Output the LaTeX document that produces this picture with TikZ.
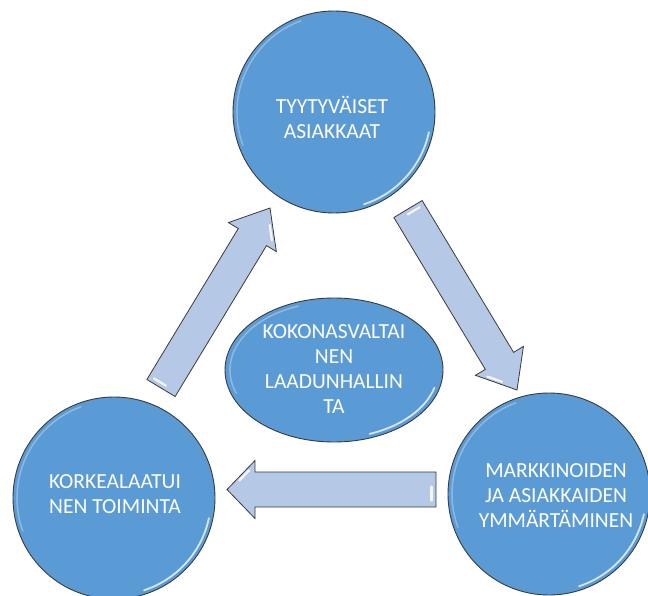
\documentclass[tikz,border=0pt]{standalone}
\usepackage{fontspec}
\setmainfont{Carlito}
\usetikzlibrary{calc,shapes.geometric}
\definecolor{cblue}{HTML}{5B9BD5}
\definecolor{ablue}{HTML}{B5C8E6}
\definecolor{edgec}{HTML}{3A3A3A}
\tikzset{
  bubble/.style={circle, fill=cblue, draw=edgec, line width=0.9pt, minimum size=202pt, inner sep=0pt},
  midbubble/.style={ellipse, fill=cblue, draw=edgec, line width=0.9pt, minimum width=218pt, minimum height=144pt, inner sep=0pt},
  txt/.style={text=white, font=\fontsize{21.5}{25}\selectfont, align=center, inner sep=0pt},
  blockarrow/.style={fill=ablue, draw=edgec, line width=0.8pt, line join=miter},
  rim/.style={draw=white, opacity=0.75, line width=1.8pt, line cap=round},
  softrim/.style={draw=white, opacity=0.3, line width=1.5pt, line cap=round},
  streak/.style={draw=white, opacity=0.85, line width=2.2pt, line cap=round}
}
\newcommand{\blockarr}[5]{% tail, tip, half shaft, half head, head length
  \coordinate (#1#2b) at ($(#2)!#5!(#1)$);
  \coordinate (#1#2m) at ($(#1#2b)!#4!-90:(#2)$);
  \draw[blockarrow] ($(#1)!#3!90:(#2)$) -- ($(#1#2b)!#3!90:(#2)$) -- ($(#1#2b)!#4!90:(#2)$)
    -- (#2) -- (#1#2m) -- ($(#1#2b)!#3!-90:(#2)$) -- ($(#1)!#3!-90:(#2)$) -- cycle;
  % highlight along the head edge
  \coordinate (#1#2c) at ($(#1#2b)!0.35!(#2)$);
  \draw[streak] ($($(#1#2m)!0.18!(#2)$)!0.2!(#1#2c)$) -- ($($(#1#2m)!0.62!(#2)$)!0.2!(#1#2c)$);
  % highlight inside the tail end
  \coordinate (#1#2s) at ($(#1)!4.5pt!(#2)$);
  \draw[streak] ($(#1#2s)!3pt!-90:(#2)$) -- ($(#1#2s)!11pt!90:(#2)$);
}
\newcommand{\circrim}[1]{%
  \draw[rim] ($(#1.center)+(-12:97pt)$) arc[start angle=-12, end angle=-72, radius=97pt];
  \draw[softrim] ($(#1.center)+(110:97pt)$) arc[start angle=110, end angle=200, radius=97pt];
}
\begin{document}
\begin{tikzpicture}[x=1pt, y=-1pt]
  \useasboundingbox (0,0) rectangle (648,596);
  % arrows
  \coordinate (a1t) at (161,388);
  \coordinate (a1h) at (270,208);
  \coordinate (a2t) at (408,209);
  \coordinate (a2h) at (517,390);
  \coordinate (a3t) at (436,489.5);
  \coordinate (a3h) at (227,489.5);
  \blockarr{a1t}{a1h}{16.5pt}{28pt}{34pt}
  \blockarr{a2t}{a2h}{16.5pt}{28pt}{34pt}
  \blockarr{a3t}{a3h}{17.5pt}{29pt}{28pt}
  % circles
  \node[bubble] (top) at (334,112) {};
  \node[bubble] (left) at (114,498) {};
  \node[bubble] (right) at (549,494) {};
  \circrim{top}
  \circrim{left}
  \circrim{right}
  \node[txt] (toptxt) at (332,117) {TYYTYVÄISET\\ASIAKKAAT};
  \node[txt] (lefttxt) at (115,494) {KORKEALAATUI\\NEN TOIMINTA};
  \node[txt] (righttxt) at (556,496) {MARKKINOIDEN\\JA ASIAKKAIDEN\\YMMÄRTÄMINEN};
  % center ellipse
  \node[midbubble] (mid) at (334,370) {};
  \draw[rim] ($(mid.center)+(-15:104pt and 68pt)$) arc[start angle=-15, end angle=-70, x radius=104pt, y radius=68pt];
  \draw[softrim] ($(mid.center)+(110:104pt and 68pt)$) arc[start angle=110, end angle=200, x radius=104pt, y radius=68pt];
  \node[txt] (midtxt) at (334,369.5) {KOKONASVALTAI\\NEN\\LAADUNHALLIN\\TA};
\end{tikzpicture}
\end{document}
